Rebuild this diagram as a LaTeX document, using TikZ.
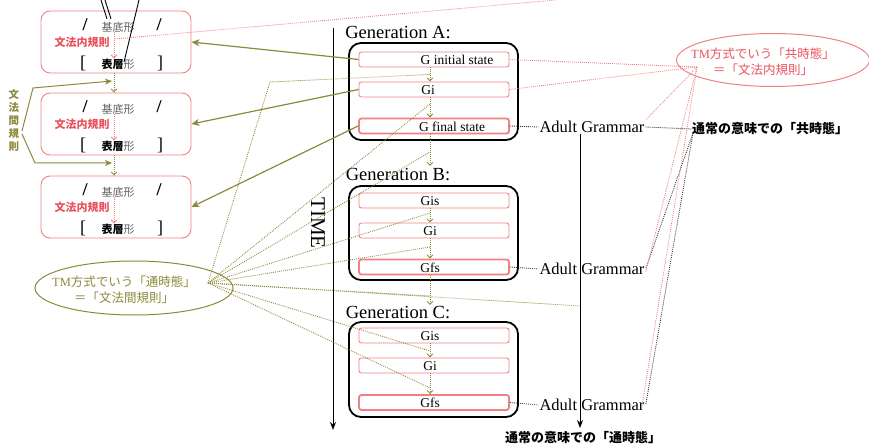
\documentclass[tikz,border=0pt]{standalone}
\usepackage{fontspec}
\setmainfont{Liberation Serif}
\newfontfamily\jp{Noto Sans CJK JP}
\usetikzlibrary{arrows.meta,shapes.geometric,calc}
\definecolor{oliv}{RGB}{140,137,58}
\definecolor{pinkb}{RGB}{240,128,132}
\definecolor{redt}{RGB}{232,82,92}
\definecolor{grayt}{RGB}{95,95,95}
\begin{document}
\begin{tikzpicture}[x=1pt,y=-1pt,
 lbox/.style={draw=pinkb,line width=0.9pt,rounded corners=9pt,minimum width=150pt,minimum height=62pt,inner sep=0pt},
 gbox/.style={draw=black,line width=1.8pt,rounded corners=12pt,minimum width=169pt,inner sep=0pt},
 ibox/.style={draw=pinkb,line width=0.9pt,rounded corners=2.5pt,minimum width=150pt,minimum height=15pt,inner sep=0pt},
 fbox/.style={ibox,line width=1.8pt},
 gtext/.style={font=\fontsize{13.5}{14}\selectfont,inner sep=0pt},
 gen/.style={font=\fontsize{18.5}{20}\selectfont,inner sep=0pt},
 ag/.style={font=\fontsize{16.5}{18}\selectfont,inner sep=1pt},
 slash/.style={font=\fontsize{18}{18}\selectfont\bfseries,inner sep=0pt},
 brk/.style={font=\fontsize{18}{18}\selectfont,inner sep=0pt},
 kitei/.style={font=\jp\fontsize{11}{11}\selectfont,text=grayt,inner sep=0pt},
 hyoso/.style={font=\jp\fontsize{11}{11}\selectfont,inner sep=0pt},
 rulet/.style={font=\jp\bfseries\fontsize{11}{12}\selectfont,text=redt,inner sep=0pt},
 jpbig/.style={font=\jp\bfseries\fontsize{13}{14}\selectfont,inner sep=0pt},
 olivedot/.style={oliv,line width=0.85pt,dash pattern=on 0.9pt off 1.1pt},
 reddot/.style={pinkb,line width=0.85pt,dash pattern=on 0.9pt off 1.1pt},
 blackdot/.style={black!80,line width=0.85pt,dash pattern=on 0.9pt off 1.1pt},
 oarrow/.style={oliv,line width=1.2pt,-{Stealth[length=8pt,width=7pt,inset=2.5pt]}},
 dtip/.style={-{Straight Barb[length=3pt,width=5.5pt]}},
]
\useasboundingbox (0,0) rectangle (869,446);

% ---------- left grammar boxes ----------
\foreach \i/\t in {1/11,2/93,3/176}{
  \node[lbox] (L\i) at (116,{\t+31}) {};
  \node[slash] (sa\i) at (85,{\t+14}) {/};
  \node[kitei] (k\i) at (118,{\t+16}) {基底形};
  \node[slash] (sb\i) at (159,{\t+14}) {/};
  \node[rulet] (r\i) at (82,{\t+31}) {文法内規則};
  \node[brk] (ba\i) at (83,{\t+52}) {[};
  \node[hyoso] (h\i) at (118,{\t+53}) {{\bfseries 表層}{\color{grayt}形}};
  \node[brk] (bb\i) at (160,{\t+52}) {]};
  \draw[reddot,dtip] ([xshift=-4pt]k\i.south) -- ([xshift=-4pt]h\i.north);
}
\draw[olivedot,dtip] ([xshift=-2pt]L1.south) -- ([xshift=-2pt]L2.north);
\draw[olivedot,dtip] ([xshift=-2pt]L2.south) -- ([xshift=-2pt]L3.north);

% black lines entering from the top
\coordinate (bl1a) at (101,0); \coordinate (bl1b) at (107,19);
\coordinate (bl2a) at (105,0); \coordinate (bl2b) at (111,19);
\coordinate (bl3a) at (139,0); \coordinate (bl3b) at (124,62);
\draw[line width=0.9pt] (bl1a) -- (bl1b);
\draw[line width=0.9pt] (bl2a) -- (bl2b);
\draw[line width=0.9pt] (bl3a) -- (bl3b);

% red dotted line leaving the top
\coordinate (rr0) at (115,39); \coordinate (rr1) at (556,0);
\draw[reddot] (rr0) -- (rr1);

% 文法間規則
\node[font=\jp\bfseries\fontsize{10.5}{13}\selectfont,text=oliv,align=center,inner sep=0pt] (bk) at (14,121) {文\\法\\間\\規\\則};
\coordinate (bu) at (112,81); \coordinate (bl) at (112,163);
\coordinate (bk1) at (22,131); \coordinate (bk1m) at (33,88);
\coordinate (bk2) at (22,134); \coordinate (bk2m) at (35,163);
\draw[oliv,line width=1pt,-{Stealth[length=7pt,width=6pt,inset=2pt]}] (bk1) -- (bk1m) -- (bu);
\draw[oliv,line width=1pt,-{Stealth[length=7pt,width=6pt,inset=2pt]}] (bk2) -- (bk2m) -- (bl);

% ---------- time axis ----------
\coordinate (t0) at (333,28); \coordinate (t1) at (333,430);
\draw[line width=1pt,-{Stealth[length=8pt,width=6pt]}] (t0) -- (t1);
\node[rotate=-90,font=\fontsize{21}{21}\selectfont,inner sep=0pt] (time) at (318,223) {TIME};

% ---------- generations ----------
\node[gen] (GA) at (398,33) {Generation A:};
\node[gbox,minimum height=97pt] (BA) at (433.5,91.5) {};
\node[ibox] (A1) at (434,59.5) {};
\node[ibox] (A2) at (434,89.5) {};
\node[fbox] (A3) at (434,126) {};
\node[gtext] (tA1) at (457,60) {G initial state};
\node[gtext] (tA2) at (428,90) {Gi};
\node[gtext] (tA3) at (452,126.5) {G final state};

\node[gen] (GB) at (398,175) {Generation B:};
\node[gbox,minimum height=94pt] (BB) at (433.5,233) {};
\node[ibox] (B1) at (434,200.5) {};
\node[ibox] (B2) at (434,230.5) {};
\node[fbox] (B3) at (434,267) {};
\node[gtext] (tB1) at (430,201) {Gis};
\node[gtext] (tB2) at (430,231) {Gi};
\node[gtext] (tB3) at (430,267.5) {Gfs};

\node[gen] (GC) at (398,313) {Generation C:};
\node[gbox,minimum height=95pt] (BC) at (433.5,369.5) {};
\node[ibox] (C1) at (434,335.5) {};
\node[ibox] (C2) at (434,365.5) {};
\node[fbox] (C3) at (434,402.5) {};
\node[gtext] (tC1) at (430,336) {Gis};
\node[gtext] (tC2) at (430,366) {Gi};
\node[gtext] (tC3) at (430,403) {Gfs};

\coordinate (ab) at (430,166);
\coordinate (bc) at (430,305);
\draw[olivedot,dtip] ([xshift=-4pt]A1.south) -- ([xshift=-4pt]A2.north);
\draw[olivedot,dtip] ([xshift=-4pt]A2.south) -- ([xshift=-4pt]A3.north);
\draw[olivedot,dtip] ([xshift=-4pt]A3.south) -- (ab);
\draw[olivedot,dtip] ([xshift=-4pt]B1.south) -- ([xshift=-4pt]B2.north);
\draw[olivedot,dtip] ([xshift=-4pt]B2.south) -- ([xshift=-4pt]B3.north);
\draw[olivedot,dtip] ([xshift=-4pt]B3.south) -- (bc);
\draw[olivedot,dtip] ([xshift=-4pt]C1.south) -- ([xshift=-4pt]C2.north);
\draw[olivedot,dtip] ([xshift=-4pt]C2.south) -- ([xshift=-4pt]C3.north);

% solid olive arrows to left boxes
\draw[oarrow] (A1.west) -- (L1.east);
\draw[oarrow] (A2.west) -- (L2.east);
\draw[oarrow] (A3.west) -- (L3.east);

% ---------- adult grammar ----------
\node[ag] (AGA) at (592,127) {Adult Grammar};
\node[ag] (AGB) at (592,269) {Adult Grammar};
\node[ag] (AGC) at (592,405) {Adult Grammar};
\draw[blackdot] (A3.east) -- (AGA.west);
\draw[blackdot] (B3.east) -- (AGB.west);
\draw[blackdot] (C3.east) -- (AGC.west);

\coordinate (v1) at (580,428);
\draw[line width=1pt,-{Stealth[length=8pt,width=6pt]}] (AGA.south -| v1) -- (v1);
\node[jpbig] (TJ) at (583,438) {通常の意味での「通時態」};
\node[jpbig] (KJ) at (770,129) {通常の意味での「共時態」};
\coordinate (kj1) at (693,133);
\draw[blackdot] (AGA.east) -- (KJ.west);
\draw[blackdot] (kj1) -- (AGB.east);
\draw[blackdot] (kj1) -- (AGC.east);

% ---------- ellipses ----------
\node[ellipse,draw=pinkb,line width=1pt,minimum width=193pt,minimum height=53pt,inner sep=0pt] (E2) at (773,60) {};
\node[text=redt,align=center,font=\jp\fontsize{12.5}{16}\selectfont,inner sep=0pt] (E2t) at (763,62) {{\rmfamily TM}方式でいう「共時態」\\＝「文法内規則」};
\coordinate (rc) at (697,67);
\draw[reddot] (rc) -- (A1.east);
\draw[reddot] (rc) -- (A2.east);
\draw[reddot] (rc) -- (AGA.north east);
\draw[reddot] (rc) -- ([yshift=-3pt]AGB.east);
\draw[reddot] (rc) -- ([xshift=-4pt,yshift=-3pt]AGC.east);

\node[ellipse,draw=oliv,line width=1pt,minimum width=198pt,minimum height=54pt,inner sep=0pt] (E1) at (134,288) {};
\node[text=oliv,align=center,font=\jp\fontsize{12.5}{16}\selectfont,inner sep=0pt] (E1t) at (124,290) {{\rmfamily TM}方式でいう「通時態」\\＝「文法間規則」};

% fan of dotted olive lines
\coordinate (fan) at (208,283);
\coordinate (fbend) at (270,82);
\coordinate (fa1) at (430,74.5);
\coordinate (fa2) at (430,104);
\coordinate (fa3) at (430,152);
\coordinate (fb1) at (430,213);
\coordinate (fb2) at (430,247);
\coordinate (fb3) at (430,296);
\coordinate (fc1) at (430,351);
\coordinate (fc2) at (430,388);
\coordinate (fv) at (580,306);
\draw[olivedot] (fan) -- (fbend) -- (fa1);
\foreach \p in {fa2,fa3,fb1,fb2,fb3,fc1,fc2,fv}{
  \draw[olivedot] (fan) -- (\p);
}
\end{tikzpicture}
\end{document}
